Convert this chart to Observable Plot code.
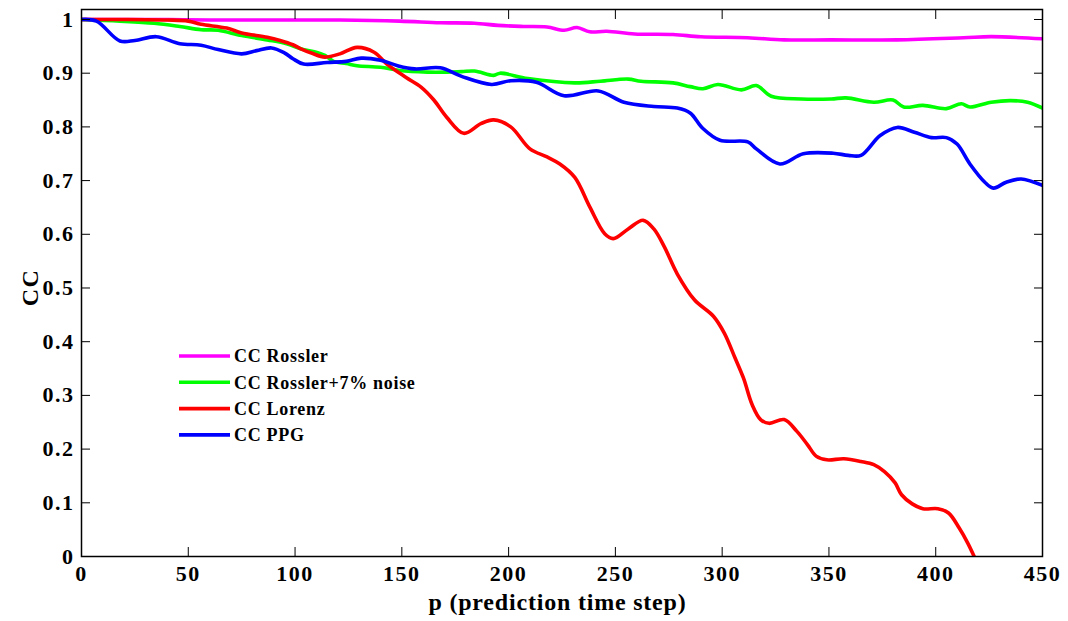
<!DOCTYPE html>
<html><head><meta charset="utf-8">
<script src="https://cdn.jsdelivr.net/npm/d3@7"></script>
<script src="https://cdn.jsdelivr.net/npm/@observablehq/plot@0.6"></script>
<style>body{margin:0;background:#fff;} #chart{width:1068px;height:621px;}</style>
</head><body><div id="chart"></div>
<script>
const pRossler = [0,20,40,60,80,100,121,149,168,184,195,207,218,226,232,238,246,259,277,290,312,329,351,382,413,426,450];
const ccRossler = [1.0,1.0,1.0,0.999,0.999,0.999,0.999,0.997,0.994,0.993,0.989,0.987,0.986,0.980,0.985,0.977,0.978,0.973,0.972,0.968,0.966,0.962,0.962,0.962,0.966,0.968,0.964];

const pNoise = [0,18,34,46,56,64,75,87,96,103,109,114,118,124,129,140,149,162,171,178,184,193,196,209,231,243,256,262,277,285,291,298,309,316,323,337,351,358,371,380,385,394,405,412,416,426,435,443,450];
const ccNoise = [1.0,0.997,0.993,0.987,0.981,0.980,0.970,0.962,0.955,0.945,0.940,0.933,0.922,0.918,0.914,0.911,0.905,0.902,0.902,0.903,0.904,0.896,0.900,0.890,0.882,0.885,0.889,0.885,0.882,0.875,0.871,0.879,0.869,0.877,0.857,0.852,0.852,0.854,0.846,0.850,0.837,0.840,0.834,0.843,0.837,0.846,0.849,0.846,0.835];

const pLorenz = [0,20,40,50,56,68,75,87,93,99,103,108,114,121,129,137,143,152,159,165,171,179,187,193,201,210,218,224,231,238,245,249,256,263,268,273,279,287,296,301,306,310,314,318,322,329,335,340,344,349,357,365,371,376,381,384,389,394,401,406,411,415,418];
const ccLorenz = [1.0,1.0,0.999,0.997,0.991,0.984,0.975,0.967,0.961,0.953,0.945,0.937,0.930,0.936,0.948,0.939,0.917,0.892,0.874,0.850,0.818,0.788,0.806,0.813,0.800,0.759,0.744,0.731,0.706,0.651,0.601,0.592,0.610,0.626,0.610,0.576,0.526,0.478,0.447,0.416,0.370,0.332,0.283,0.255,0.248,0.255,0.233,0.208,0.187,0.180,0.182,0.177,0.171,0.158,0.137,0.115,0.098,0.089,0.089,0.081,0.053,0.025,0.0];

const pPPG = [0,7,18,25,35,46,56,64,75,82,89,95,99,104,115,124,131,140,148,156,168,178,192,201,213,226,242,254,268,279,285,291,299,312,316,327,338,352,359,365,374,382,390,398,405,410,416,423,427,433,440,450];
const ccPPG = [1.0,0.997,0.960,0.961,0.968,0.955,0.952,0.944,0.936,0.942,0.947,0.938,0.927,0.917,0.920,0.922,0.928,0.924,0.914,0.908,0.910,0.894,0.879,0.886,0.883,0.858,0.867,0.846,0.838,0.835,0.826,0.797,0.775,0.772,0.759,0.731,0.750,0.751,0.747,0.747,0.784,0.799,0.790,0.780,0.780,0.768,0.731,0.697,0.686,0.697,0.703,0.691];

const seriesNames = ["CC Rossler","CC Rossler+7% noise","CC Lorenz","CC PPG"];
const seriesColors = ["#ff00ff","#00ff00","#ff0000","#0000ff"];
const xTicks = [0,50,100,150,200,250,300,350,400,450];
const yTicks = [0,0.1,0.2,0.3,0.4,0.5,0.6,0.7,0.8,0.9,1];
const xLabel = "p (prediction time step)";
const yLabel = "CC";

const seriesP = [pRossler,pNoise,pLorenz,pPPG];
const seriesCC = [ccRossler,ccNoise,ccLorenz,ccPPG];
const data = [];
seriesNames.forEach((name,i)=>{
  seriesP[i].forEach((p,j)=>data.push({series:name, p, cc: seriesCC[i][j]}));
});

const font = "'Liberation Serif','Times New Roman',serif";
const plot = Plot.plot({
  width:1068, height:621,
  marginLeft:81, marginRight:26, marginTop:9, marginBottom:65,
  style:{fontFamily:font, fontSize:"22px", fontWeight:"bold", color:"#000", background:"#fff", letterSpacing:"1.5px"},
  x:{domain:[0,450]},
  y:{domain:[0,1.0186]},
  color:{domain:seriesNames, range:seriesColors},
  marks:[
    Plot.line(data,{x:"p", y:"cc", z:"series", stroke:"series", strokeWidth:3.6, curve:"catmull-rom", clip:true}),
    Plot.axisX(xTicks,{anchor:"bottom", tickSize:-9, tickPadding:18, label:null, tickFormat:d=>String(d)}),
    Plot.axisX(xTicks,{anchor:"top", tickSize:-9, tickFormat:()=>"", label:null}),
    Plot.axisY(yTicks,{anchor:"left", tickSize:-9, tickPadding:16, label:null, tickFormat:d=>String(d)}),
    Plot.axisY(yTicks,{anchor:"right", tickSize:-9, tickFormat:()=>"", label:null}),
    Plot.frame({stroke:"#000", strokeWidth:1.5})
  ]
});
document.getElementById("chart").appendChild(plot);

const svg = d3.select(plot);
const xs = plot.scale("x"), ys = plot.scale("y");
svg.append("text")
  .attr("x", (xs.apply(0)+xs.apply(450))/2 - 4).attr("y", 610)
  .attr("text-anchor","middle").style("font-family",font).style("font-size","24px").style("font-weight","bold").style("letter-spacing","0.8px")
  .text(xLabel);
svg.append("text")
  .attr("transform", `translate(38,${(ys.apply(0)+ys.apply(1))/2}) rotate(-90)`)
  .attr("text-anchor","middle").style("font-family",font).style("font-size","24px").style("font-weight","bold")
  .text(yLabel);

const lg = svg.append("g").attr("transform","translate(179,356)");
seriesNames.forEach((name,i)=>{
  const g = lg.append("g").attr("transform",`translate(0,${i*26.3})`);
  g.append("line").attr("x1",0).attr("x2",51).attr("y1",0).attr("y2",0)
    .attr("stroke",seriesColors[i]).attr("stroke-width",3.6);
  g.append("text").attr("x",55).attr("y",0).attr("dy","0.35em").attr("text-anchor","start")
    .style("font-family",font).style("font-size","18px").style("font-weight","bold").style("letter-spacing","0.7px").text(name);
});
</script>
</body></html>
